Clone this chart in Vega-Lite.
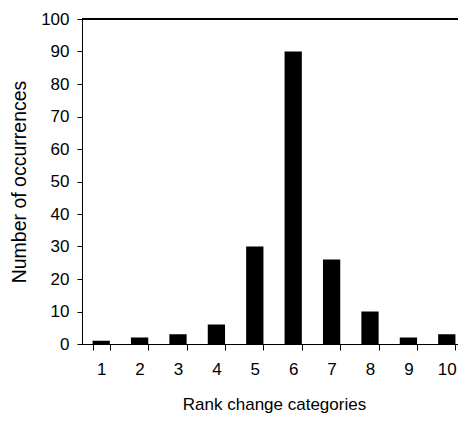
{
  "$schema": "https://vega.github.io/schema/vega-lite/v6.json",
  "autosize": "none",
  "width": 376,
  "height": 325,
  "padding": {"left": 82, "top": 19, "right": 0, "bottom": 77},
  "background": "white",
  "config": {
    "view": {"stroke": null},
    "font": "Liberation Sans",
    "axis": {
      "labelFont": "Liberation Sans",
      "titleFont": "Liberation Sans",
      "labelFontSize": 17,
      "titleFontSize": 17,
      "titleFontWeight": "normal",
      "labelColor": "black",
      "titleColor": "black",
      "domainColor": "black",
      "tickColor": "black",
      "labelOverlap": false,
      "grid": false
    }
  },
  "data": {
    "values": [
      {"category": "1", "count": 1},
      {"category": "2", "count": 2},
      {"category": "3", "count": 3},
      {"category": "4", "count": 6},
      {"category": "5", "count": 30},
      {"category": "6", "count": 90},
      {"category": "7", "count": 26},
      {"category": "8", "count": 10},
      {"category": "9", "count": 2},
      {"category": "10", "count": 3}
    ]
  },
  "layer": [
    {
      "mark": {"type": "bar", "color": "black"},
      "encoding": {
        "x": {
          "field": "category",
          "type": "ordinal",
          "sort": null,
          "scale": {"range": [0, 384], "paddingInner": 0.55, "paddingOuter": 0.275},
          "axis": {
            "title": "Rank change categories",
            "labelAngle": 0,
            "tickBand": "extent",
            "tickSize": 6,
            "labelPadding": 11,
            "titlePadding": 19
          }
        },
        "y": {
          "field": "count",
          "type": "quantitative",
          "scale": {"domain": [0, 100], "nice": false},
          "axis": {
            "title": "Number of occurrences",
            "titleFontSize": 19.5,
            "values": [0, 10, 20, 30, 40, 50, 60, 70, 80, 90, 100],
            "tickSize": 5,
            "labelPadding": 8,
            "titlePadding": 11,
            "labelOverlap": false
          }
        }
      }
    },
    {
      "mark": {"type": "rule", "color": "black", "strokeWidth": 1},
      "encoding": {
        "y": {
          "datum": 100,
          "type": "quantitative",
          "axis": {
            "title": "Number of occurrences",
            "titleFontSize": 19.5,
            "values": [0, 10, 20, 30, 40, 50, 60, 70, 80, 90, 100],
            "tickSize": 5,
            "labelPadding": 8,
            "titlePadding": 11,
            "labelOverlap": false
          }
        }
      }
    }
  ]
}
